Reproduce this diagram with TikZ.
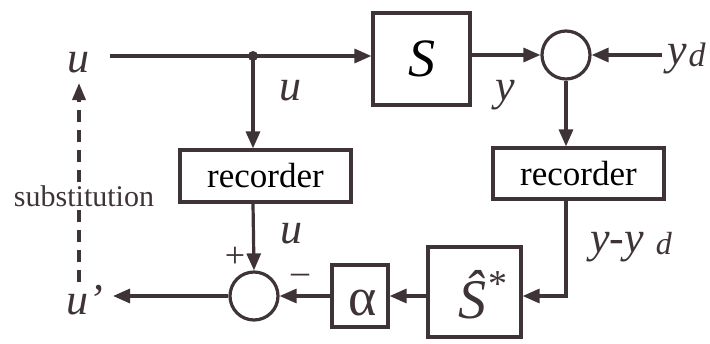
\documentclass[tikz,border=0pt]{standalone}
\usepackage{fontspec}
\setmainfont{Liberation Serif}
\usetikzlibrary{arrows.meta}
\definecolor{ink}{RGB}{62,52,56}
\tikzset{
  ln/.style={draw=ink, line width=3.2pt},
  arr/.style={ln, -{Triangle[length=17pt,width=14pt]}},
  blk/.style={draw=ink, line width=3.2pt, rectangle, inner sep=0pt},
  sumc/.style={draw=ink, line width=3.2pt, circle, minimum size=48pt, inner sep=0pt},
  lbl/.style={text=ink, inner sep=0pt, font=\fontsize{44}{44}\selectfont\itshape},
  small/.style={text=ink, inner sep=0pt, font=\fontsize{30}{30}\selectfont},
}
\begin{document}
\begin{tikzpicture}[x=1pt,y=-1pt]
\useasboundingbox (0,0) rectangle (710,343);
% nodes
\node[lbl] (uin) at (78,63) {u};
\coordinate (start) at (110,56);
\coordinate (jn) at (253,56);
\node[blk, minimum width=97pt, minimum height=92pt] (S) at (421.5,59) {\fontsize{54}{54}\selectfont\itshape S};
\node[sumc] (sum1) at (566,55) {};
\node[lbl, anchor=base west] (yd) at (667,64) {y\hspace{2pt}\raisebox{-2pt}{\fontsize{34}{34}\selectfont d}};
\coordinate (ydin) at (662,55);
\node[blk, minimum width=171pt, minimum height=51pt] (rec2) at (578.5,173.5) {\fontsize{35}{35}\selectfont recorder};
\node[blk, minimum width=171pt, minimum height=52pt] (rec1) at (265.5,176) {\fontsize{35}{35}\selectfont recorder};
\node[sumc] (sum2) at (254,296) {};
\node[blk, minimum width=56pt, minimum height=62pt] (alpha) at (360,296) {};
\node[text=ink, inner sep=0pt, font=\fontsize{54}{54}\selectfont] (alphat) at (363,303) {α};
\node[blk, minimum width=93pt, minimum height=90pt] (Sh) at (474.5,292) {};
\node[text=ink, inner sep=0pt, anchor=base] (Sht) at (472,318) {\fontsize{56}{56}\selectfont\itshape Ŝ};
\node[text=ink, inner sep=0pt] (star) at (498,284) {\fontsize{38}{38}\selectfont *};
\coordinate (uout) at (113,296);
\node[lbl] (up) at (85,300) {u’};
\coordinate (dbot) at (79,282);
\coordinate (dtop) at (79,83);
% labels
\node[lbl] (lu1) at (290,91) {u};
\node[lbl] (ly) at (505,95) {y};
\node[lbl] (lu2) at (291,234) {u};
\node[lbl, anchor=base west] (lyyd) at (590,252) {y-y\hspace{12pt}\raisebox{-2pt}{\fontsize{32}{32}\selectfont d}};
\node[text=ink, font=\fontsize{36}{36}\selectfont] (plus) at (235,257) {+};
\node[text=ink, font=\fontsize{36}{36}\selectfont] (minus) at (300,279) {–};
% connectors
\draw[arr] (start) -- (S.west |- start);
\fill[ink] (jn) circle (5pt);
\draw[arr] (S.east |- sum1) -- (sum1.west);
\draw[arr] (ydin) -- (sum1.east);
\draw[arr] (sum1.south) -- (sum1.south |- rec2.north);
\draw[arr] (jn) -- (jn |- rec1.north);
\draw[arr] (jn |- rec1.south) -- (sum2.north);
\draw[arr] (sum1.south |- rec2.south) |- (Sh.east |- sum2);
\draw[arr] (Sh.west |- sum2) -- (alpha.east);
\draw[arr] (alpha.west) -- (sum2.east);
\draw[arr] (sum2.west) -- (uout);
\draw[ink, line width=3.4pt, dash pattern=on 12pt off 8pt, -{Triangle[length=17pt,width=13pt]}] (dbot) -- (dtop);
\node[small, fill=white, inner sep=3pt] (subs) at (84,196) {substitution};
\end{tikzpicture}
\end{document}
